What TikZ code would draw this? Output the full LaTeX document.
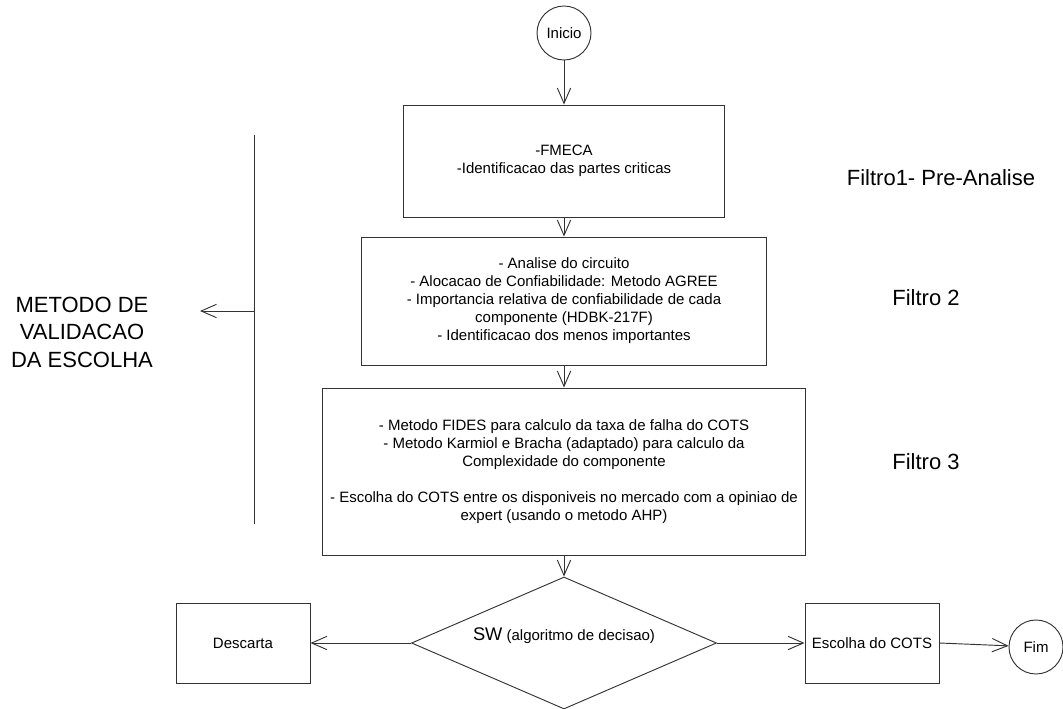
\documentclass[tikz,border=0pt]{standalone}
\usepackage{fontspec}
\setmainfont{Liberation Sans}
\usetikzlibrary{arrows.meta,shapes.geometric}
\newcommand\px{0.75pt}
\begin{document}
\begin{tikzpicture}[x=0.75pt,y=-0.75pt,
  line width=0.7pt,
  box/.style={draw=black!80, rectangle, inner sep=0pt, align=center,
    font=\fontsize{11.25}{13.5}\selectfont},
  term/.style={draw=black!80, circle, minimum size=54*\px, inner sep=0pt,
    font=\fontsize{11.25}{13.5}\selectfont},
  flow/.style={draw=black!80, -{Straight Barb[length=11.5pt,width=10pt]}},
  big/.style={align=center, font=\fontsize{16.5}{20.6}\selectfont}
]
\useasboundingbox (0,0) rectangle (1063,709);

% main column
\node[term] (ini) at (564,33) {Inicio};
\node[box, minimum width=321*\px, minimum height=112*\px] (b1) at (564,161)
  {-FMECA\\-Identificacao das partes criticas};
\node[box, minimum width=405*\px, minimum height=128*\px] (b2) at (564,301)
  {- Analise do circuito\\- Alocacao de Confiabilidade: Metodo AGREE\\
   - Importancia relativa de confiabilidade de cada\\componente (HDBK-217F)\\
   - Identificacao dos menos importantes};
\node[box, minimum width=483*\px, minimum height=167*\px] (b3) at (564,471.5)
  {- Metodo FIDES para calculo da taxa de falha do COTS\\
   - Metodo Karmiol e Bracha (adaptado) para calculo da\\
   Complexidade do componente\\[13pt]
   - Escolha do COTS entre os disponiveis no mercado com a opiniao de\\
   expert (usando o metodo AHP)};

% decision
\node[draw=black!80, diamond, minimum width=305*\px, minimum height=132*\px,
  inner sep=0pt] (dec) at (564,643) {};
\node[font=\fontsize{11.25}{13.5}\selectfont] (declbl) at (564,636)
  {{\fontsize{13.7}{16}\selectfont SW} (algoritmo de decisao)};

\node[box, minimum width=134*\px, minimum height=80*\px] (desc) at (243,643) {Descarta};
\node[box, minimum width=134*\px, minimum height=80*\px] (esc) at (872,643) {Escolha do COTS};
\node[term] (fim) at (1036,647) {Fim};

% flow connectors
\draw[flow] (ini) -- (b1);
\draw[flow] (b1) -- (b2);
\draw[flow] (b2) -- (b3);
\draw[flow] (b3) -- (dec);
\draw[flow] (dec.west) -- (desc.east);
\draw[flow] (dec.east) -- (esc.west);
\draw[flow] (esc.east) -- (fim);

% validation bracket
\coordinate (brtop) at (254,135);
\coordinate (brbot) at (254,524);
\coordinate (brmid) at (254,311);
\coordinate (brtip) at (200,311);
\draw[draw=black!80] (brtop) -- (brbot);
\draw[flow] (brmid) -- (brtip);
\node[big] (metodo) at (82,332) {METODO DE\\VALIDACAO\\DA ESCOLHA};

% filter labels
\node[big] (f1) at (941,178) {Filtro1- Pre-Analise};
\node[big] (f2) at (926,298) {Filtro 2};
\node[big] (f3) at (926,462) {Filtro 3};
\end{tikzpicture}
\end{document}
